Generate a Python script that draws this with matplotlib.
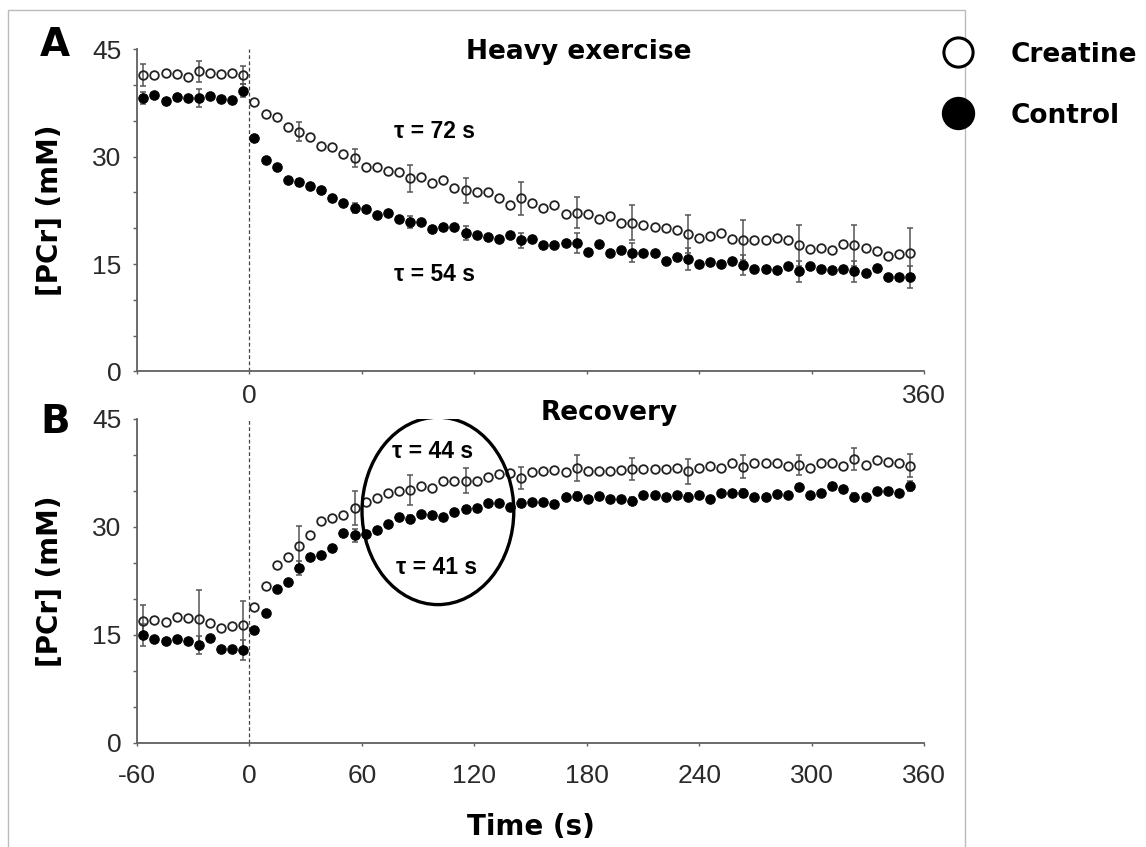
import numpy as np
import matplotlib
matplotlib.use("Agg")
import matplotlib.pyplot as plt
from matplotlib.patches import Ellipse, Rectangle
from matplotlib.lines import Line2D

plt.rcParams['font.family'] = ['Liberation Sans', 'DejaVu Sans']
WIDE_BOLD = ['DejaVu Sans', 'Liberation Sans']   # the bold labels are set wide

# ========================================
# DATA
# ========================================
# one sample every ~5.93 s, the first one at -56.6 s (70 samples)
T0 = -56.6
DT = 5.93
time_s = np.round(T0 + DT * np.arange(70), 1)

# samples that carry a SEM bar
err_idx = [0, 5, 9] + list(range(14, 70, 5))

# --- A: heavy exercise ---
ex_creatine = [41.4, 41.4, 41.7, 41.6, 41.1, 41.9, 41.7, 41.6, 41.7, 41.4,
               37.7, 35.9, 35.6, 34.1, 33.5, 32.8, 31.5, 31.3, 30.4, 29.8,
               28.6, 28.6, 28.0, 27.8, 27.0, 27.2, 26.3, 26.7, 25.6, 25.3,
               25.1, 25.0, 24.2, 23.3, 24.2, 23.6, 22.9, 23.3, 22.0, 22.2,
               22.0, 21.3, 21.7, 20.7, 20.8, 20.4, 20.2, 20.1, 19.7, 19.2,
               18.6, 18.9, 19.3, 18.5, 18.4, 18.4, 18.3, 18.7, 18.3, 17.6,
               17.1, 17.3, 17.0, 17.8, 17.6, 17.3, 16.8, 16.2, 16.4, 16.5]
ex_control = [38.2, 38.6, 37.8, 38.4, 38.2, 38.2, 38.5, 38.0, 37.9, 39.2,
              32.6, 29.5, 28.5, 26.7, 26.4, 25.9, 25.4, 24.2, 23.6, 22.9,
              22.7, 21.9, 22.2, 21.3, 20.9, 20.9, 19.9, 20.2, 20.2, 19.3,
              19.1, 18.8, 18.5, 19.1, 18.3, 18.5, 17.6, 17.6, 17.9, 17.9,
              16.7, 17.8, 16.5, 17.0, 16.6, 16.6, 16.6, 15.4, 16.0, 15.7,
              15.0, 15.3, 15.0, 15.5, 14.9, 14.3, 14.3, 14.2, 14.8, 14.0,
              14.7, 14.3, 14.2, 14.3, 14.0, 13.7, 14.4, 13.2, 13.2, 13.2]
ex_creatine_sem = [1.5, 1.4, 1.2, 1.3, 1.3, 1.9, 1.75, 2.3, 2.2, 2.4, 2.7, 2.8, 2.8, 2.9, 3.5]
ex_control_sem = [0.9, 1.2, 0.9, 0.5, 0.7, 0.8, 1.0, 1.1, 1.4, 1.3, 1.5, 1.4, 1.5, 1.5, 1.5]

# --- B: recovery ---
rec_creatine = [16.9, 17.1, 16.8, 17.5, 17.3, 17.2, 16.7, 15.9, 16.2, 16.4,
                18.8, 21.8, 24.7, 25.8, 27.4, 28.8, 30.8, 31.2, 31.7, 32.6,
                33.5, 34.0, 34.7, 34.9, 35.1, 35.6, 35.4, 36.3, 36.3, 36.4,
                36.4, 36.9, 37.3, 37.5, 36.8, 37.6, 37.8, 37.9, 37.6, 38.2,
                37.8, 37.8, 37.8, 37.9, 38.0, 38.0, 38.0, 38.0, 38.2, 37.7,
                38.2, 38.4, 38.1, 38.8, 38.3, 38.8, 38.8, 38.8, 38.5, 38.6,
                38.2, 38.8, 38.8, 38.5, 39.4, 38.6, 39.2, 39.0, 38.8, 38.5]
rec_control = [15.0, 14.4, 14.2, 14.4, 14.1, 13.6, 14.5, 13.0, 13.0, 12.9,
               15.7, 18.0, 21.4, 22.4, 24.3, 25.8, 26.1, 27.1, 29.1, 28.8,
               29.0, 29.5, 30.4, 31.3, 31.1, 31.8, 31.7, 31.4, 32.0, 32.4,
               32.6, 33.3, 33.3, 32.7, 33.3, 33.5, 33.4, 33.2, 34.1, 34.3,
               33.9, 34.3, 33.8, 33.8, 33.6, 34.4, 34.4, 34.2, 34.4, 34.2,
               34.4, 33.9, 34.7, 34.7, 34.7, 34.1, 34.2, 34.6, 34.4, 35.5,
               34.4, 34.7, 35.7, 35.3, 34.2, 34.2, 35.0, 35.0, 34.7, 35.6]
rec_creatine_sem = [2.3, 4.0, 3.3, 2.7, 2.4, 2.1, 1.7, 1.55, 1.8, 1.55, 1.7, 1.6, 1.4, 1.55, 1.55]
rec_control_sem = [1.5, 1.2, 1.4, 1.0, 0.9, 0.5, 0.5, 0.5, 0.5, 0.5, 0.5, 0.5, 0.5, 0.5, 0.7]

# tick labels
x_ticks = [-60, 0, 60, 120, 180, 240, 300, 360]
x_labels_a = ['', '0', '', '', '', '', '', '360']
x_labels_b = ['-60', '0', '60', '120', '180', '240', '300', '360']
y_ticks = [0, 15, 30, 45]

# ========================================
# PLOT
# ========================================
AXIS_GRAY = '#606060'
TICK_TXT = '#2a2a2a'


def draw_series(ax, y, sem, filled):
    y = np.asarray(y)
    ax.errorbar(time_s[err_idx], y[err_idx], yerr=sem, fmt='none',
                ecolor='#555555', elinewidth=1.1, capsize=2.5, capthick=1.1, zorder=3)
    if filled:
        ax.plot(time_s, y, 'o', ms=6.8, mfc='black', mec='black', mew=0.8, zorder=4)
    else:
        ax.plot(time_s, y, 'o', ms=6.2, mfc='none', mec='#222222', mew=1.3, zorder=4)


def style_axis(ax, x_labels, xpad):
    ax.set_xlim(-60, 360)
    ax.set_ylim(0, 45)
    for s in ['top', 'right']:
        ax.spines[s].set_visible(False)
    for s in ['left', 'bottom']:
        ax.spines[s].set_color(AXIS_GRAY)
        ax.spines[s].set_linewidth(1.3)
    ax.set_yticks(y_ticks)
    ax.set_yticks(np.arange(0, 46, 5), minor=True)
    ax.set_xticks(x_ticks)
    ax.set_xticklabels(x_labels)
    ax.tick_params(axis='y', which='both', length=3, width=1, color=AXIS_GRAY,
                   labelsize=19, pad=8, labelcolor=TICK_TXT)
    ax.tick_params(axis='x', length=2, width=1, color=AXIS_GRAY,
                   labelsize=19, pad=xpad, labelcolor=TICK_TXT)
    ax.axvline(0, ls=(0, (3, 2)), color='#444444', lw=0.9, zorder=2)
    ax.set_ylabel('[PCr] (mM)', fontsize=20, fontweight='bold', family=WIDE_BOLD)
    ax.yaxis.set_label_coords(-0.093, 0.5)


fig = plt.figure(figsize=(11.46, 8.47), dpi=100)
axA = fig.add_axes([0.1195, 0.5614, 0.6868, 0.3804])
axB = fig.add_axes([0.1195, 0.1228, 0.6868, 0.3829])

style_axis(axA, x_labels_a, 7)
style_axis(axB, x_labels_b, 13)

draw_series(axA, ex_creatine, ex_creatine_sem, filled=False)
draw_series(axA, ex_control, ex_control_sem, filled=True)
draw_series(axB, rec_creatine, rec_creatine_sem, filled=False)
draw_series(axB, rec_control, rec_control_sem, filled=True)

# annotations
title_kw = dict(ha='center', va='center', fontsize=19, fontweight='bold', family=WIDE_BOLD)
tau_kw = dict(ha='center', va='center', fontsize=16.5, fontweight='bold')
axA.text(176, 44.6, 'Heavy exercise', **title_kw)
axA.text(99, 33.5, 'τ = 72 s', **tau_kw)
axA.text(99, 13.5, 'τ = 54 s', **tau_kw)
axB.text(192, 45.8, 'Recovery', clip_on=False, **title_kw)
axB.text(98, 40.5, 'τ = 44 s', **tau_kw)
axB.text(100, 24.3, 'τ = 41 s', **tau_kw)
axB.add_patch(Ellipse((100.6, 32.2), 81, 26, fill=False, lw=2.4, ec='black', zorder=5))

axB.set_xlabel('Time (s)', fontsize=20, fontweight='bold', family=WIDE_BOLD)
axB.xaxis.set_label_coords(0.5, -0.215)

fig.text(0.048, 0.947, 'A', ha='center', va='center', fontsize=28, fontweight='bold', family=WIDE_BOLD)
fig.text(0.048, 0.502, 'B', ha='center', va='center', fontsize=28, fontweight='bold', family=WIDE_BOLD)

# frame round the figure panel
fig.add_artist(Rectangle((0.007, -0.05), 0.835, 1.038, transform=fig.transFigure,
                         fill=False, ec='#bbbbbb', lw=1))

# legend outside the frame
handles = [Line2D([], [], marker='o', ls='none', ms=21, mfc='white', mec='black', mew=2.2),
           Line2D([], [], marker='o', ls='none', ms=23, mfc='black', mec='black')]
fig.legend(handles, ['Creatine', 'Control'], loc='upper left', bbox_to_anchor=(0.822, 0.951),
           frameon=False, prop={'size': 19, 'weight': 'bold', 'family': WIDE_BOLD},
           handlelength=1.2, handletextpad=1.4, labelspacing=1.33, borderpad=0, borderaxespad=0)

fig.savefig('out.png', dpi=100)
